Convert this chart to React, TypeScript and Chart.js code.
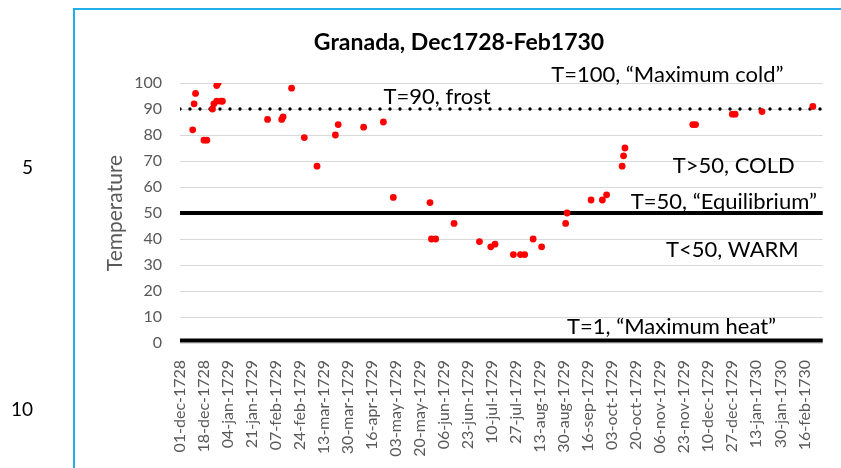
import React, { useEffect, useRef } from "react";
import { Chart, registerables } from "chart.js";

Chart.register(...registerables);

// ---------- data ----------
const chartTitle = "Granada, Dec1728-Feb1730";
const yAxisTitle = "Temperature";

const tickLabels = [
  "01-dec-1728", "18-dec-1728", "04-jan-1729", "21-jan-1729", "07-feb-1729",
  "24-feb-1729", "13-mar-1729", "30-mar-1729", "16-apr-1729", "03-may-1729",
  "20-may-1729", "06-jun-1729", "23-jun-1729", "10-jul-1729", "27-jul-1729",
  "13-aug-1729", "30-aug-1729", "16-sep-1729", "03-oct-1729", "20-oct-1729",
  "06-nov-1729", "23-nov-1729", "10-dec-1729", "27-dec-1729", "13-jan-1730",
  "30-jan-1730", "16-feb-1730",
];
const axisStart = "01-dec-1728";
const axisEnd = "01-mar-1730";

const obsDates = [
  "10-dec-1728", "11-dec-1728", "12-dec-1728", "18-dec-1728", "20-dec-1728",
  "24-dec-1728", "25-dec-1728", "27-dec-1728", "27-dec-1728", "28-dec-1728",
  "30-dec-1728", "31-dec-1728",
  "01-feb-1729", "11-feb-1729", "12-feb-1729", "18-feb-1729", "27-feb-1729",
  "08-mar-1729", "21-mar-1729", "23-mar-1729", "10-apr-1729", "24-apr-1729",
  "01-may-1729", "27-may-1729", "28-may-1729", "31-may-1729", "13-jun-1729",
  "01-jul-1729", "09-jul-1729", "12-jul-1729", "25-jul-1729", "30-jul-1729",
  "02-aug-1729", "08-aug-1729", "14-aug-1729", "31-aug-1729", "01-sep-1729",
  "18-sep-1729", "26-sep-1729", "29-sep-1729", "10-oct-1729", "11-oct-1729",
  "12-oct-1729", "29-nov-1729", "01-dec-1729", "27-dec-1729", "29-dec-1729",
  "17-jan-1730", "22-feb-1730",
];
const temps = [
  82, 92, 96, 78, 78,
  90, 92, 93, 99, 100,
  93, 93,
  86, 86, 87, 98, 79,
  68, 80, 84, 83, 85,
  56, 54, 40, 40, 46,
  39, 37, 38, 34, 34,
  34, 40, 37, 46, 50,
  55, 55, 57, 68, 72,
  75, 84, 84, 88, 88,
  89, 91,
];

const frostLevel = 90;
const equilibriumLevel = 50;
const maxHeatLevel = 1;

const annotationTexts = [
  "T=100, \u201cMaximum cold\u201d",
  "T=90, frost",
  "T>50, COLD",
  "T=50, \u201cEquilibrium\u201d",
  "T<50, WARM",
  "T=1, \u201cMaximum heat\u201d",
];
const annotationDates = [
  "11-nov-1729", "01-jun-1729", "28-dec-1729", "21-dec-1729", "27-dec-1729",
  "14-nov-1729",
];
const annotationTemps = [103, 94.6, 68, 54.2, 35.8, 6.2];

// ---------- helpers ----------
const monthNames = ["jan", "feb", "mar", "apr", "may", "jun", "jul", "aug", "sep", "oct", "nov", "dec"];
const DAY = 86400000;
function parseDate(s: string): number {
  const [d, m, y] = s.split("-");
  return Date.UTC(parseInt(y, 10), monthNames.indexOf(m), parseInt(d, 10));
}
const originMs = parseDate(axisStart);
const toDay = (s: string) => Math.round((parseDate(s) - originMs) / DAY);
function formatDay(day: number): string {
  const dt = new Date(originMs + day * DAY);
  const dd = String(dt.getUTCDate()).padStart(2, "0");
  return `${dd}-${monthNames[dt.getUTCMonth()]}-${dt.getUTCFullYear()}`;
}

const FONT = "Lato, 'Open Sans', sans-serif";

export default function App() {
  const canvasRef = useRef<HTMLCanvasElement | null>(null);

  useEffect(() => {
    const canvas = canvasRef.current;
    if (!canvas) return;
    const maxDay = toDay(axisEnd);
    const tickDays = tickLabels.map(toDay);
    const points = obsDates.map((d, i) => ({ x: toDay(d), y: temps[i] }));
    const hLine = (v: number) => [
      { x: 0, y: v },
      { x: maxDay, y: v },
    ];

    const textPlugin = {
      id: "textPlugin",
      afterDatasetsDraw(chart: any) {
        const ctx = chart.ctx;
        const xs = chart.scales.x;
        const ys = chart.scales.y;
        ctx.save();
        ctx.fillStyle = "#000";
        ctx.textAlign = "center";
        ctx.textBaseline = "middle";
        ctx.font = `22px ${FONT}`;
        annotationTexts.forEach((t, i) => {
          ctx.fillText(t, xs.getPixelForValue(toDay(annotationDates[i])), ys.getPixelForValue(annotationTemps[i]));
        });
        ctx.font = `bold 23px ${FONT}`;
        ctx.fillText(chartTitle, 459, 43);
        ctx.restore();
      },
    };

    const chart = new Chart(canvas, {
      type: "scatter",
      data: {
        datasets: [
          {
            type: "scatter",
            data: points,
            backgroundColor: "#ff0000",
            borderColor: "#ff0000",
            pointRadius: 3.4,
            pointBorderWidth: 0,
            order: 0,
          } as any,
          {
            type: "line",
            data: hLine(frostLevel),
            borderColor: "#000",
            borderWidth: 3.4,
            borderDash: [0, 10],
            borderCapStyle: "round",
            pointRadius: 0,
            order: 1,
          } as any,
          {
            type: "line",
            data: hLine(equilibriumLevel),
            borderColor: "#000",
            borderWidth: 4,
            borderCapStyle: "round",
            pointRadius: 0,
            order: 1,
          } as any,
          {
            type: "line",
            data: hLine(maxHeatLevel),
            borderColor: "#000",
            borderWidth: 4,
            borderCapStyle: "round",
            pointRadius: 0,
            order: 1,
          } as any,
        ],
      },
      options: {
        animation: false,
        responsive: false,
        devicePixelRatio: 1,
        layout: { padding: { left: 76, right: 15, top: 83, bottom: 0 } },
        plugins: {
          legend: { display: false },
          tooltip: { enabled: false },
          title: { display: false },
        },
        scales: {
          x: {
            type: "linear",
            min: 0,
            max: maxDay,
            border: { display: false },
            grid: { display: false, drawTicks: false },
            afterBuildTicks: (scale: any) => {
              scale.ticks = tickDays.map((v) => ({ value: v }));
            },
            afterFit: (scale: any) => {
              scale.height = 125;
            },
            ticks: {
              autoSkip: false,
              minRotation: 90,
              maxRotation: 90,
              padding: 17,
              color: "#595959",
              font: { family: FONT, size: 16 },
              callback: (v: any) => formatDay(Number(v)),
            },
          },
          y: {
            min: 0,
            max: 100,
            border: { display: false },
            grid: { color: "#d9d9d9", lineWidth: 1, drawTicks: false },
            afterFit: (scale: any) => {
              scale.width = 104;
            },
            ticks: {
              stepSize: 10,
              padding: 18,
              color: "#595959",
              font: { family: FONT, size: 16 },
            },
            title: {
              display: true,
              text: yAxisTitle,
              color: "#595959",
              font: { family: FONT, size: 21 },
              padding: { top: 27, bottom: 0 },
            },
          },
        },
      } as any,
      plugins: [textPlugin],
    });
    return () => chart.destroy();
  }, []);

  return (
    <div style={{ position: "absolute", left: 0, top: 0, width: 841, height: 468, overflow: "hidden", background: "#fff" }}>
      <canvas ref={canvasRef} width={841} height={468} style={{ position: "absolute", left: 0, top: 0, width: 841, height: 468 }} />
      <div
        style={{
          position: "absolute",
          left: 73,
          top: 8,
          right: -10,
          bottom: -10,
          borderLeft: "2px solid #22aee8",
          borderTop: "2px solid #22aee8",
          pointerEvents: "none",
        }}
      />
      <div style={{ position: "absolute", right: 808, top: 155, font: `19px ${FONT}`, color: "#000" }}>5</div>
      <div style={{ position: "absolute", right: 808, top: 397, font: `19px ${FONT}`, color: "#000" }}>10</div>
    </div>
  );
}
